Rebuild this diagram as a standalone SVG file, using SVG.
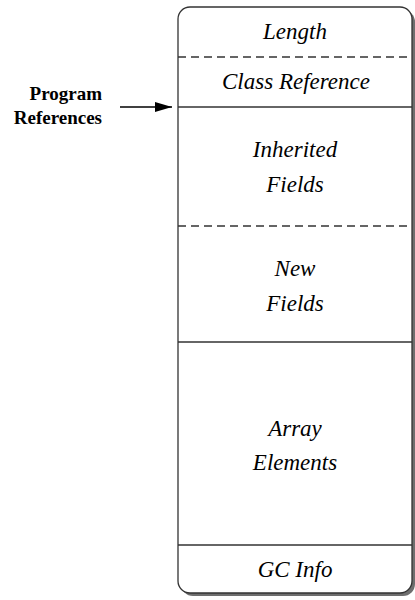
<svg xmlns="http://www.w3.org/2000/svg" width="415" height="600" viewBox="0 0 415 600">
<style>
.t{font-family:"Liberation Serif","Times New Roman",serif;font-style:italic;font-size:23px;fill:#000;text-anchor:middle}
.b{font-family:"Liberation Serif","Times New Roman",serif;font-weight:bold;font-size:19px;fill:#000;text-anchor:end}
.solid{stroke:#333;stroke-width:1.3;fill:none}
.dash{stroke:#333;stroke-width:1.3;fill:none;stroke-dasharray:8 5}
</style>
<defs>
<marker id="ah" markerWidth="18" markerHeight="10" refX="17" refY="5" orient="auto" markerUnits="userSpaceOnUse">
<path d="M0,0 L17,5 L0,10 Z" fill="#000"/>
</marker>
</defs>
<rect width="415" height="600" fill="#fff"/>
<g id="object">
<rect x="181" y="10" width="234" height="586" rx="12" fill="#6e6e6e"/>
<rect x="178" y="7" width="234" height="586" rx="12" fill="#fff" stroke="#333" stroke-width="1.3"/>
</g>
<g id="length"><text class="t" x="295" y="39">Length</text></g>
<line class="dash" x1="178" y1="57" x2="412" y2="57"/>
<g id="classref"><text class="t" x="296" y="89">Class Reference</text></g>
<line class="solid" x1="178" y1="107" x2="412" y2="107"/>
<g id="inherited"><text class="t" x="295" y="157">Inherited</text><text class="t" x="295" y="192">Fields</text></g>
<line class="dash" x1="178" y1="226" x2="412" y2="226"/>
<g id="newfields"><text class="t" x="295" y="276">New</text><text class="t" x="295" y="311">Fields</text></g>
<line class="solid" x1="178" y1="342" x2="412" y2="342"/>
<g id="array"><text class="t" x="295" y="436">Array</text><text class="t" x="295" y="470">Elements</text></g>
<line class="solid" x1="178" y1="545" x2="412" y2="545"/>
<g id="gcinfo"><text class="t" x="295" y="577">GC Info</text></g>
<g id="progrefs"><text class="b" x="102" y="100">Program</text><text class="b" x="102" y="124">References</text></g>
<g id="connectors">
<line x1="120" y1="107" x2="172" y2="107" stroke="#000" stroke-width="1.3" marker-end="url(#ah)"/>
</g>
</svg>
